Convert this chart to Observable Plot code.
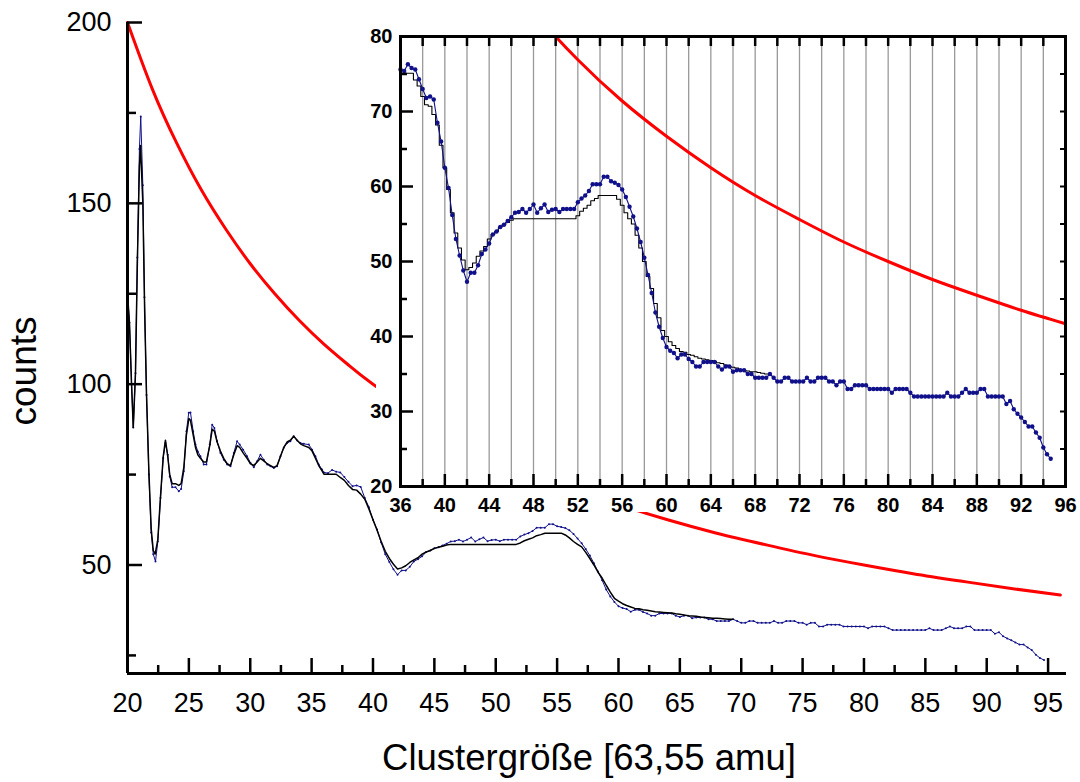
<!DOCTYPE html>
<html><head><meta charset="utf-8">
<script src="https://cdn.jsdelivr.net/npm/d3@7"></script>
<script src="https://cdn.jsdelivr.net/npm/@observablehq/plot@0.6"></script>
<style>
html,body{margin:0;padding:0;background:#fff;}
#wrap{position:relative;width:1080px;height:782px;overflow:hidden;background:#fff;}
#main{position:absolute;left:0;top:0;}
#inset{position:absolute;left:376px;top:0;}
</style></head><body><div id="wrap"><div id="main"></div><div id="inset"></div></div>
<script>
// ---------- data ----------
const xTitle = "Clustergröße [63,55 amu]";
const yTitle = "counts";

// red reference curve (x, counts)
const hyperbola = [[20,200],[22,181.8],[24,166.7],[26,153.8],[28,142.9],[30,133.3],[32,125],[34,117.6],[36,111.1],[38,105.3],[40,100],[44,90.9],[48,83.3],[52,76.9],[56,71.4],[60,66.7],[64,62.5],[68,58.8],[72,55.6],[76,52.6],[80,50],[84,47.6],[88,45.5],[92,43.5],[96,41.7]];

// blue measured series, 20 .. 36 (x, counts)
const blueEarly = [[20.0,125],[20.16,117],[20.33,100],[20.47,88],[20.65,103],[20.8,135],[20.97,165],[21.08,174],[21.25,155],[21.38,124],[21.55,97],[21.74,75],[21.93,59],[22.1,53],[22.28,51],[22.47,56.5],[22.69,68.5],[22.91,79.6],[23.09,83.7],[23.28,80.5],[23.44,74.5],[23.64,71.5],[23.91,71.5],[24.18,70.4],[24.37,71],[24.59,75.9],[24.8,87],[24.99,92.1],[25.13,92.2],[25.35,87],[25.54,83.3],[25.73,81.4],[25.94,80.1],[26.21,77.8],[26.43,77.8],[26.7,83.3],[26.9,88.8],[27.08,87.9],[27.3,84.2],[27.57,81],[27.84,79.1],[28.12,77.8],[28.39,77.3],[28.66,81],[28.93,84.2],[29.14,83.3],[29.42,81.9],[29.74,80.1],[30.02,78.2],[30.29,77],[30.56,78.7],[30.83,80.5],[31.1,79.1],[31.38,77.8],[31.65,77.3],[31.92,76.8],[32.19,77.3],[32.46,80.1],[32.73,82.4],[33.0,83.7],[33.27,84.2],[33.54,85.6],[33.82,84.4],[34.09,83.7],[34.36,83.5],[34.77,83.3],[35.04,81.9],[35.31,80.1],[35.58,77.8],[35.85,76.4]];
// blue measured series from 36 on, one value every 1/3 cluster size
const blueGridStart = 36;
const blueGridValues = [
75.6,75.4,76.3, 75.8,75.6,74.3, 73.0,71.8,72.0, 71.6,68.5,66.0,
62.5,59.8,56.2, 53.0,50.8,48.8, 47.3,48.5,48.5, 49.5,51.0,51.6,
52.4,53.6,54.0, 54.6,54.9,55.4, 55.9,56.5,56.6, 57.0,56.5,57.0,
57.6,56.5,57.1, 57.6,56.6,56.9, 57.0,56.6,57.0, 57.0,57.0,57.0,
57.9,58.4,58.8, 59.4,60.3,60.3, 60.3,61.3,61.3, 60.7,60.5,60.2,
59.6,58.6,57.3, 56.0,54.4,52.6, 50.5,48.2,45.8, 43.2,41.3,39.8,
38.6,38.1,37.8, 37.1,37.6,37.6, 37.0,36.6,36.0, 36.0,36.6,36.6,
36.6,36.6,36.0, 35.6,36.0,36.0, 35.3,35.5,35.5, 35.5,35.0,35.0,
34.5,34.5,34.5, 34.5,35.0,34.5, 34.0,34.0,34.5, 34.5,34.0,34.0,
34.0,34.0,34.5, 34.0,34.0,34.5, 34.5,34.5,34.0, 34.0,33.5,34.0,
34.0,33.0,33.0, 33.5,33.5,33.5, 33.5,33.0,33.0, 33.0,33.0,33.0,
33.0,32.5,33.0, 33.0,33.0,33.0, 32.5,32.0,32.0, 32.0,32.0,32.0,
32.0,32.0,32.0, 32.0,32.5,32.0, 32.0,32.0,32.5, 33.0,32.5,32.5,
32.5,33.0,33.0, 32.0,32.0,32.0, 32.0,32.0,31.0, 31.4,30.3,29.7,
29.2,28.6,28.0, 28.0,27.2,26.5, 25.2,24.3,23.7];

// black measured series, 20 .. 36 (x, counts)
const blackEarly = [[20.0,125],[20.16,117],[20.33,100],[20.47,88],[20.65,103],[20.8,133],[20.97,160],[21.06,166],[21.25,150],[21.4,120],[21.55,97],[21.74,76],[21.93,60],[22.1,54],[22.25,53],[22.47,57],[22.69,69],[22.91,80],[23.09,84.5],[23.28,80],[23.44,75],[23.64,72.5],[23.91,72.5],[24.18,72],[24.37,72.5],[24.59,77],[24.8,86],[25.0,90.5],[25.13,90],[25.35,86],[25.54,82.5],[25.73,80.5],[25.94,79.5],[26.21,78.5],[26.43,78.5],[26.7,83],[26.9,87.5],[27.08,87],[27.3,84],[27.57,81.5],[27.84,79.5],[28.12,78],[28.39,77.5],[28.66,80.5],[28.93,83],[29.14,82.5],[29.42,81],[29.74,79.5],[30.02,78],[30.29,77.5],[30.56,78.5],[30.83,79.5],[31.1,78.8],[31.38,78],[31.65,77.5],[31.92,77],[32.19,77.5],[32.46,80],[32.73,82.5],[33.0,84],[33.27,84.5],[33.54,85.6],[33.82,84.5],[34.09,83.5],[34.36,83],[34.77,82.5],[35.04,81.5],[35.31,79.5],[35.58,77.5],[35.85,76]];
// black measured series from 36 on, one value every 1/3 cluster size
const blackGridStart = 36;
const blackGridValues = [
75.1,75.1,75.1, 75.1,74.2,73.4, 72.0,70.9,70.7, 69.6,68.2,65.5,
62.5,59.6,56.5, 53.8,51.8,50.2, 48.9,49.2,49.8, 50.7,51.4,52.0,
53.0,53.6,54.0, 54.6,54.9,55.2, 55.5,55.7,55.7, 55.7,55.7,55.7,
55.7,55.7,55.7, 55.7,55.7,55.7, 55.7,55.7,55.7, 55.7,55.7,55.7,
56.1,56.7,57.1, 57.5,58.1,58.4, 58.8,58.8,58.8, 58.8,58.8,58.3,
57.5,56.5,55.7, 55.0,53.5,51.8, 50.0,48.0,46.4, 44.4,42.5,40.8,
40.0,39.3,38.8, 38.4,38.0,37.9, 37.6,37.5,37.3, 37.1,37.0,36.9,
36.8,36.7,36.5, 36.4,36.2,36.0, 35.9,35.8,35.6, 35.5,35.4,35.3,
35.3,35.2,35.1, 35.0,35.0];

// tick values
const mainXLabels = [20,25,30,35,40,45,50,55,60,65,70,75,80,85,90,95];
const mainXMinor = [22.5,27.5,32.5,37.5,42.5,47.5,52.5,57.5,62.5,67.5,72.5,77.5,82.5,87.5,92.5];
const mainYLabels = [50,100,150,200];
const mainYMinor = [25,75,125,175];
const insetXLabels = [36,40,44,48,52,56,60,64,68,72,76,80,84,88,92,96];
const insetXMajor = [40,44,48,52,56,60,64,68,72,76,80,84,88,92];
const insetXMinor = [38,42,46,50,54,58,62,66,70,74,78,82,86,90,94];
const insetGrid = [38,40,42,44,46,48,50,52,54,56,58,60,62,64,66,68,70,72,74,76,78,80,82,84,86,88,90,92,94];
const insetYLabels = [20,30,40,50,60,70,80];
const insetYMajor = [30,40,50,60,70];
const insetYMinor = [25,35,45,55,65,75];
const insetRightTicks = [25,30,35,40,45,50,55,60,65,70,75];

// ---------- build point tables ----------
const blue = blueEarly.concat(blueGridValues.map((v, i) => [blueGridStart + i / 3, v]));
const black = blackEarly.concat(blackGridValues.map((v, i) => [blackGridStart + i / 3, v]));
const blueIn = blue.filter(d => d[0] >= 35.9);
const blackIn = black.filter(d => d[0] >= 35.9);
const X = d => d[0], Y = d => d[1];
const BLUE = "#10108a";
const RED = "#ff0000";
const FONT = "'Liberation Sans', Arial, Helvetica, sans-serif";

// ---------- main chart ----------
const W = 1080, H = 782, ML = 127, MR = 14, MT = 22, MB = 109;
const FW = W - ML - MR, FH = H - MT - MB;
const main = Plot.plot({
  width: W, height: H,
  marginLeft: ML, marginRight: MR, marginTop: MT, marginBottom: MB,
  x: {domain: [20, 96.5]},
  y: {domain: [20, 200]},
  style: {fontFamily: FONT, background: "transparent", overflow: "visible", color: "#000"},
  marks: [
    Plot.line(hyperbola, {x: X, y: Y, stroke: RED, strokeWidth: 3, curve: "natural"}),
    Plot.line(blue, {x: X, y: Y, stroke: BLUE, strokeWidth: 1}),
    Plot.dot(blue, {x: X, y: Y, r: 1, fill: BLUE, stroke: null}),
    Plot.line(black, {x: X, y: Y, stroke: "#000", strokeWidth: 1.5}),
    Plot.ruleY(mainYLabels, {y: d => d, insetRight: FW - 15, strokeWidth: 2.5}),
    Plot.ruleY(mainYMinor, {y: d => d, insetRight: FW - 9, strokeWidth: 2.5}),
    Plot.ruleX(mainXLabels, {x: d => d, insetTop: FH - 15, strokeWidth: 2.5}),
    Plot.ruleX(mainXMinor, {x: d => d, insetTop: FH - 8, strokeWidth: 2.5}),
    Plot.ruleX([20], {x: d => d, strokeWidth: 3}),
    Plot.ruleY([20], {y: d => d, strokeWidth: 3}),
    Plot.axisY({ticks: mainYLabels, tickSize: 0, tickPadding: 16, fontSize: 27, label: null}),
    Plot.axisX({ticks: mainXLabels, tickSize: 0, tickPadding: 19, fontSize: 27, label: null}),
    Plot.text([yTitle], {text: d => d, frameAnchor: "left", textAnchor: "middle", lineAnchor: "middle", rotate: -90, dx: -103, dy: 23, fontSize: 37}),
    Plot.text([xTitle], {text: d => d, frameAnchor: "bottom", textAnchor: "middle", lineAnchor: "middle", dx: -8, dy: 85, fontSize: 36.5})
  ]
});
document.getElementById("main").appendChild(main);

// ---------- inset ----------
const IW = 704, IH = 512, IL = 24, IR = 15, IT = 36, IB = 26;
const IFW = IW - IL - IR, IFH = IH - IT - IB;
const inset = Plot.plot({
  width: IW, height: IH,
  marginLeft: IL, marginRight: IR, marginTop: IT, marginBottom: IB,
  x: {domain: [36, 96]},
  y: {domain: [20, 80]},
  style: {fontFamily: FONT, background: "#fff", overflow: "visible", color: "#000"},
  marks: [
    Plot.ruleX(insetGrid, {x: d => d, stroke: "#9a9a9a", strokeWidth: 1.3}),
    Plot.line(hyperbola, {x: X, y: Y, stroke: RED, strokeWidth: 3, curve: "natural", clip: true}),
    Plot.line(blackIn, {x: X, y: Y, stroke: "#000", strokeWidth: 1.1, curve: "step", clip: true}),
    Plot.line(blueIn, {x: X, y: Y, stroke: BLUE, strokeWidth: 1.1, clip: true}),
    Plot.dot(blueIn, {x: X, y: Y, r: 2.2, fill: BLUE, stroke: null}),
    Plot.frame({stroke: "#000", strokeWidth: 3}),
    Plot.ruleX(insetGrid, {x: d => d, insetBottom: IFH - 10, strokeWidth: 2.5}),
    Plot.ruleX(insetXMajor, {x: d => d, insetTop: IFH - 12, strokeWidth: 2.5}),
    Plot.ruleX(insetXMinor, {x: d => d, insetTop: IFH - 7, strokeWidth: 2.5}),
    Plot.ruleY(insetYMajor, {y: d => d, insetRight: IFW - 13, strokeWidth: 2.5}),
    Plot.ruleY(insetYMinor, {y: d => d, insetRight: IFW - 7, strokeWidth: 2.5}),
    Plot.ruleY(insetRightTicks, {y: d => d, insetLeft: IFW - 5, strokeWidth: 2}),
    Plot.axisX({ticks: insetXLabels, tickSize: 0, tickPadding: 11, fontSize: 20, fontWeight: "bold", label: null}),
    Plot.axisY({ticks: insetYLabels, tickSize: 0, tickPadding: 8, fontSize: 20, fontWeight: "bold", label: null})
  ]
});
document.getElementById("inset").appendChild(inset);
</script></body></html>
